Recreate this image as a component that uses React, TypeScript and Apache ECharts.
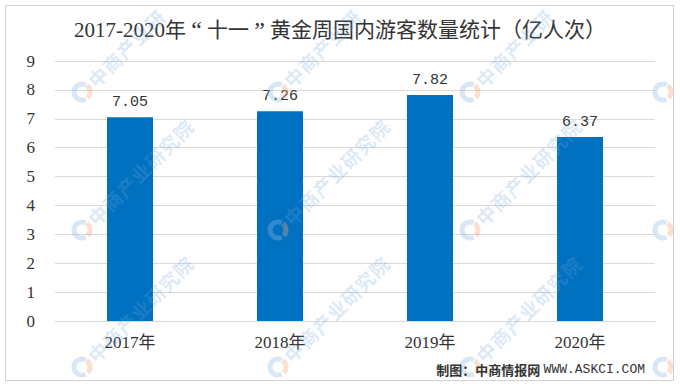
import React, { useEffect, useRef } from "react";
import * as echarts from "echarts";

const categories = ["2017年", "2018年", "2019年", "2020年"];
const visitors = [7.05, 7.26, 7.82, 6.37];
const yTicks = [0, 1, 2, 3, 4, 5, 6, 7, 8, 9];
const titleYears = "2017-2020年";
const titleOpen = "“";
const titleMid = "十一";
const titleClose = "”";
const titleRest = "黄金周国内游客数量统计（亿人次）";
const sourceLabel = "制图：中商情报网";
const sourceUrl = "WWW.ASKCI.COM";
const watermarkText = "中商产业研究院";

const W = 680;
const H = 388;
const wmXs = [82, 278, 470, 663, -115];
const wmYs = [92, 230, 367];

function watermarks(): any[] {
  const els: any[] = [];
  const d = Math.SQRT1_2;
  const chars = Array.from(watermarkText);
  for (const x of wmXs) {
    for (const y of wmYs) {
      if (x > 10 && x < W - 10 && y > 10 && y < H - 10) {
        els.push({
          type: "arc",
          shape: { cx: x, cy: y, r: 8, startAngle: Math.PI * 0.35, endAngle: Math.PI * 1.65 },
          style: { stroke: "#8fbbe6", lineWidth: 5, fill: null, opacity: 0.35 },
          silent: true,
          z: 100,
        });
        els.push({
          type: "arc",
          shape: { cx: x, cy: y, r: 8, startAngle: -Math.PI * 0.3, endAngle: Math.PI * 0.25 },
          style: { stroke: "#f4a77a", lineWidth: 5, fill: null, opacity: 0.35 },
          silent: true,
          z: 100,
        });
      }
      chars.forEach((ch, i) => {
        const dist = 22 + i * 20;
        const cx = x + dist * d;
        const cy = y - dist * d;
        if (cx < 13 || cx > W - 13 || cy < 13 || cy > H - 13) return;
        els.push({
          type: "text",
          x: cx,
          y: cy,
          rotation: Math.PI / 4,
          style: {
            text: ch,
            fill: "#6fa8dc",
            opacity: 0.25,
            font: "bold 19px 'Noto Sans CJK SC'",
            align: "center",
            verticalAlign: "middle",
          },
          silent: true,
          z: 100,
        });
      });
    }
  }
  return els;
}

export default function App() {
  const ref = useRef<HTMLDivElement>(null);
  useEffect(() => {
    if (!ref.current) return;
    const chart = echarts.init(ref.current, null, { renderer: "svg" });
    const serif = "'Liberation Serif', 'Noto Sans CJK SC'";
    chart.setOption({
      animation: false,
      backgroundColor: "#ffffff",
      title: {
        text:
          titleYears +
          "{qo|" + titleOpen + "}" +
          titleMid +
          "{qc|" + titleClose + "}" +
          titleRest,
        left: "center",
        top: 13,
        textStyle: {
          fontFamily: serif,
          fontSize: 21,
          fontWeight: "normal",
          color: "#333333",
          rich: {
            qo: { fontFamily: serif, fontSize: 24, color: "#333333", width: 21, align: "right" },
            qc: { fontFamily: serif, fontSize: 24, color: "#333333", width: 21, align: "left" },
          },
        },
      },
      grid: { left: 55, right: 25, top: 61, bottom: 67 },
      xAxis: {
        type: "category",
        data: categories,
        axisLine: { show: true, lineStyle: { color: "#d9d9d9", width: 1 } },
        axisTick: { show: false },
        axisLabel: {
          margin: 13,
          fontSize: 17,
          color: "#333333",
          fontFamily: serif,
        },
      },
      yAxis: {
        type: "value",
        min: yTicks[0],
        max: yTicks[yTicks.length - 1],
        interval: 1,
        axisLine: { show: false },
        axisTick: { show: false },
        splitLine: { lineStyle: { color: "#d9d9d9", width: 1 } },
        axisLabel: {
          margin: 20,
          fontSize: 17,
          color: "#333333",
          fontFamily: serif,
        },
      },
      series: [
        {
          type: "bar",
          data: visitors,
          barWidth: 46,
          itemStyle: { color: "#0070c0" },
          label: {
            show: true,
            position: "top",
            distance: 7,
            fontSize: 15,
            color: "#333333",
            fontFamily: "'Liberation Mono', 'Noto Sans CJK SC'",
            formatter: (p: any) => p.value.toFixed(2),
          },
        },
      ],
      graphic: [
        {
          type: "rect",
          shape: { x: 5.5, y: 5.5, width: 668, height: 375 },
          style: { fill: null, stroke: "#d0d0d0", lineWidth: 1 },
          silent: true,
          z: 0,
        },
        ...watermarks(),
        {
          type: "text",
          right: 35,
          top: 363,
          style: {
            text: "{a|" + sourceLabel + "} {b|" + sourceUrl + "}",
            rich: {
              a: { fontSize: 13, fontWeight: "bold", fill: "#333333", fontFamily: "'Noto Sans CJK SC'" },
              b: { fontSize: 13, fill: "#333333", fontFamily: "'Liberation Mono'" },
            },
          },
          z: 200,
        },
      ],
    });
    return () => chart.dispose();
  }, []);
  return (
    <div style={{ position: "fixed", left: 0, top: 0, width: W, height: H }}>
      <div ref={ref} style={{ width: W, height: H }} />
    </div>
  );
}
